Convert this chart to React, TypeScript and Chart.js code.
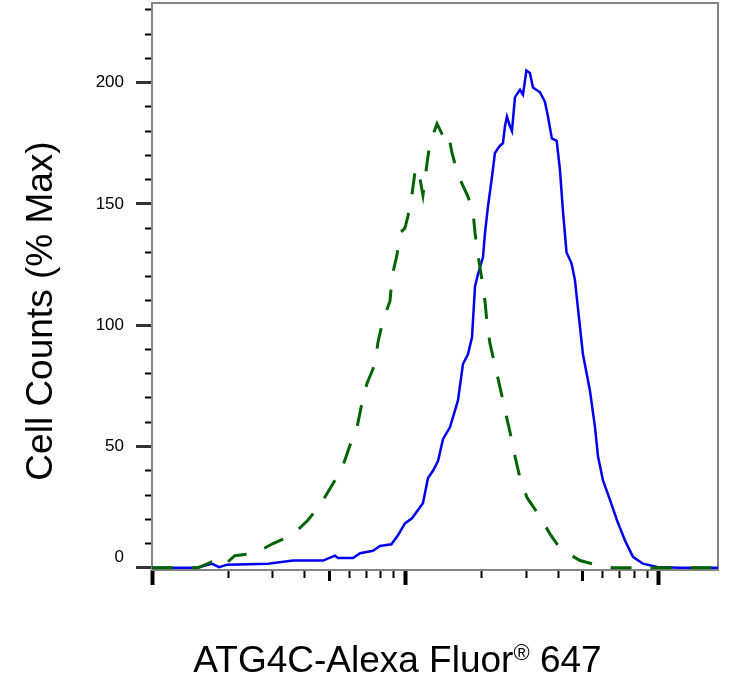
import { useEffect, useRef } from "react";
import { Chart, registerables } from "chart.js";

Chart.register(...registerables);

// ATG4C stained sample (solid blue)
const blueX = [100, 150, 172, 184, 198, 287, 360, 473, 527, 542, 621, 662, 744, 793, 880, 934, 995, 1061, 1172, 1227, 1284, 1344, 1406, 1499, 1611, 1686, 1764, 1830, 1881, 1932, 2022, 2059, 2116, 2194, 2254, 2359, 2424, 2469, 2514, 2584, 2631, 2704, 2830, 2908, 3000, 3098, 3184, 3394, 3551, 3649, 3780, 3950, 4069, 4181, 4320, 4520, 4662, 4791, 5014, 5344, 5593, 5748, 6015, 6410, 6830, 7343, 7897, 8648, 9820, 12100, 17100];
const blueY = [0, 0, 1.7, 0.3, 1.3, 1.7, 3, 3, 5, 4, 4, 6, 7, 9, 9.7, 13.4, 18.3, 20.4, 26.6, 37, 40, 44, 53, 58, 69, 84, 88, 95, 116, 121, 128, 138, 149, 161, 171, 174, 175, 182, 186, 182, 180, 194, 197, 195, 205, 204, 198, 196, 192, 186, 177, 176, 164, 147, 130, 125.5, 118.5, 107, 88, 73, 58, 46, 36, 28, 19.6, 11.3, 4.5, 1.7, 0.3, 0, 0];

// isotype control (dashed green)
const greenX = [100, 152, 172, 190, 212, 255, 300, 357, 412, 460, 513, 562, 604, 644, 674, 705, 758, 779, 815, 869, 885, 926, 951, 995, 1023, 1061, 1090, 1120, 1172, 1216, 1249, 1332, 1406, 1472, 1526, 1611, 1764, 1847, 1881, 1932, 2004, 2059, 2097, 2154, 2254, 2359, 2469, 2584, 2704, 2830, 3015, 3394, 3715, 4069, 4880, 5748, 6600, 17100];
const greenY = [0, 0, 2.4, 0.5, 5, 6, 10, 13.4, 19.6, 25.8, 34, 41, 50.5, 58, 68, 76, 84, 93, 102, 110, 120, 129, 138, 140, 145, 154, 163, 165, 153.6, 166.7, 175, 183, 178, 179.7, 171, 162, 153, 147, 138, 129, 118.5, 110, 101, 92.5, 83.5, 74.5, 65, 56, 46, 37, 29, 21, 14, 8, 3, 1, 0, 0];

const yLabelTicks = [0, 50, 100, 150, 200];
const yMinorTicks = [10, 20, 30, 40, 60, 70, 80, 90, 110, 120, 130, 140, 160, 170, 180, 190, 210, 220, 230];
const xMajorTicks = [100, 1000, 10000];
const xMidTicks = [500, 5000];
const xMinorTicks = [200, 300, 400, 600, 700, 800, 900, 2000, 3000, 4000, 6000, 7000, 8000, 9000];

const xTitleMain = "ATG4C-Alexa Fluor";
const xTitleMark = "®";
const xTitleTail = " 647";
const yTitle = "Cell Counts (% Max)";

const X_MIN = 100;
const X_MAX = 17100;
const Y_MIN = -0.9;
const Y_MAX = 232.8;

const FONT = '"Liberation Sans", Arial, Helvetica, sans-serif';

const toPoints = (xs: number[], ys: number[]) => xs.map((x, i) => ({ x, y: ys[i] }));

const framePlugin = {
  id: "frame",
  beforeDatasetsDraw(chart: Chart) {
    const { ctx, chartArea } = chart;
    ctx.save();
    ctx.strokeStyle = "#858585";
    ctx.lineWidth = 2;
    ctx.setLineDash([]);
    ctx.strokeRect(chartArea.left, chartArea.top, chartArea.right - chartArea.left, chartArea.bottom - chartArea.top);
    ctx.restore();
  },
};

const titlesPlugin = {
  id: "axisTitles",
  afterDraw(chart: Chart) {
    const { ctx } = chart;
    ctx.save();
    ctx.fillStyle = "#000";
    ctx.textBaseline = "alphabetic";

    // y title, rotated
    ctx.save();
    ctx.translate(52, 311);
    ctx.rotate(-Math.PI / 2);
    ctx.font = `37px ${FONT}`;
    ctx.textAlign = "center";
    ctx.fillText(yTitle, 0, 0);
    ctx.restore();

    // x title with small raised ®
    ctx.textAlign = "left";
    const big = `37px ${FONT}`;
    const small = `22px ${FONT}`;
    ctx.font = big;
    const w1 = ctx.measureText(xTitleMain).width;
    const w3 = ctx.measureText(xTitleTail).width;
    ctx.font = small;
    const w2 = ctx.measureText(xTitleMark).width;
    let x = 397.5 - (w1 + w2 + w3) / 2;
    const base = 672;
    ctx.font = big;
    ctx.fillText(xTitleMain, x, base);
    x += w1;
    ctx.font = small;
    ctx.fillText(xTitleMark, x, base - 12);
    x += w2;
    ctx.font = big;
    ctx.fillText(xTitleTail, x, base);
    ctx.restore();
  },
};

// main axis sits furthest from the plot (weight 1), tick-only axes have zero height
const logAxis = (ticks: number[], len: number, width: number, main = false) => ({
  type: "logarithmic" as const,
  position: "bottom" as const,
  min: X_MIN,
  max: X_MAX,
  weight: main ? 1 : 0,
  border: { display: false },
  grid: { drawOnChartArea: false, drawTicks: true, tickLength: len, tickWidth: width, tickColor: "#000" },
  ticks: { display: false, autoSkip: false },
  afterBuildTicks: (s: any) => {
    s.ticks = ticks.map((v) => ({ value: v }));
  },
  afterFit: (s: any) => {
    s.height = main ? 117 : 0;
    s.paddingLeft = 0;
    s.paddingRight = 0;
  },
});

export default function App() {
  const canvasRef = useRef<HTMLCanvasElement | null>(null);

  useEffect(() => {
    if (!canvasRef.current) return;
    const chart = new Chart(canvasRef.current, {
      type: "line",
      data: {
        datasets: [
          {
            label: "Isotype control",
            data: toPoints(greenX, greenY),
            borderColor: "#006400",
            borderWidth: 3,
            borderDash: [21, 19],
            pointRadius: 0,
            tension: 0,
            xAxisID: "x",
            yAxisID: "y",
          },
          {
            label: "ATG4C",
            data: toPoints(blueX, blueY),
            borderColor: "#0000ee",
            borderWidth: 2.5,
            pointRadius: 0,
            tension: 0,
            xAxisID: "x",
            yAxisID: "y",
          },
        ],
      },
      plugins: [framePlugin, titlesPlugin],
      options: {
        responsive: true,
        maintainAspectRatio: false,
        animation: false,
        events: [],
        layout: { padding: { left: 0, top: 3, right: 33, bottom: 0 } },
        plugins: {
          legend: { display: false },
          tooltip: { enabled: false },
        },
        scales: {
          x: logAxis(xMajorTicks, 15, 4, true),
          xMid: logAxis(xMidTicks, 11, 3),
          xMinor: logAxis(xMinorTicks, 8, 2),
          y: {
            type: "linear",
            position: "left",
            min: Y_MIN,
            max: Y_MAX,
            weight: 1,
            border: { display: false },
            grid: { drawOnChartArea: false, tickLength: 16, tickWidth: 3, tickColor: "#333" },
            ticks: {
              autoSkip: false,
              padding: 12,
              color: "#000",
              font: { family: FONT, size: 17 },
              callback: (v: any) => (Number(v) === 0 ? ["0", ""] : String(v)),
            },
            afterBuildTicks: (s: any) => {
              s.ticks = yLabelTicks.map((v) => ({ value: v }));
            },
            afterFit: (s: any) => {
              s.width = 152;
              s.paddingTop = 0;
              s.paddingBottom = 0;
            },
          },
          yMinor: {
            type: "linear",
            position: "left",
            min: Y_MIN,
            max: Y_MAX,
            weight: 0,
            border: { display: false },
            grid: { drawOnChartArea: false, tickLength: 7, tickWidth: 2, tickColor: "#000" },
            ticks: { display: false, autoSkip: false },
            afterBuildTicks: (s: any) => {
              s.ticks = yMinorTicks.map((v) => ({ value: v }));
            },
            afterFit: (s: any) => {
              s.width = 0;
              s.paddingTop = 0;
              s.paddingBottom = 0;
            },
          },
        },
      },
    });
    return () => chart.destroy();
  }, []);

  return (
    <div style={{ position: "fixed", left: 0, top: 0, width: 751, height: 687, background: "#fff" }}>
      <canvas ref={canvasRef} />
    </div>
  );
}
